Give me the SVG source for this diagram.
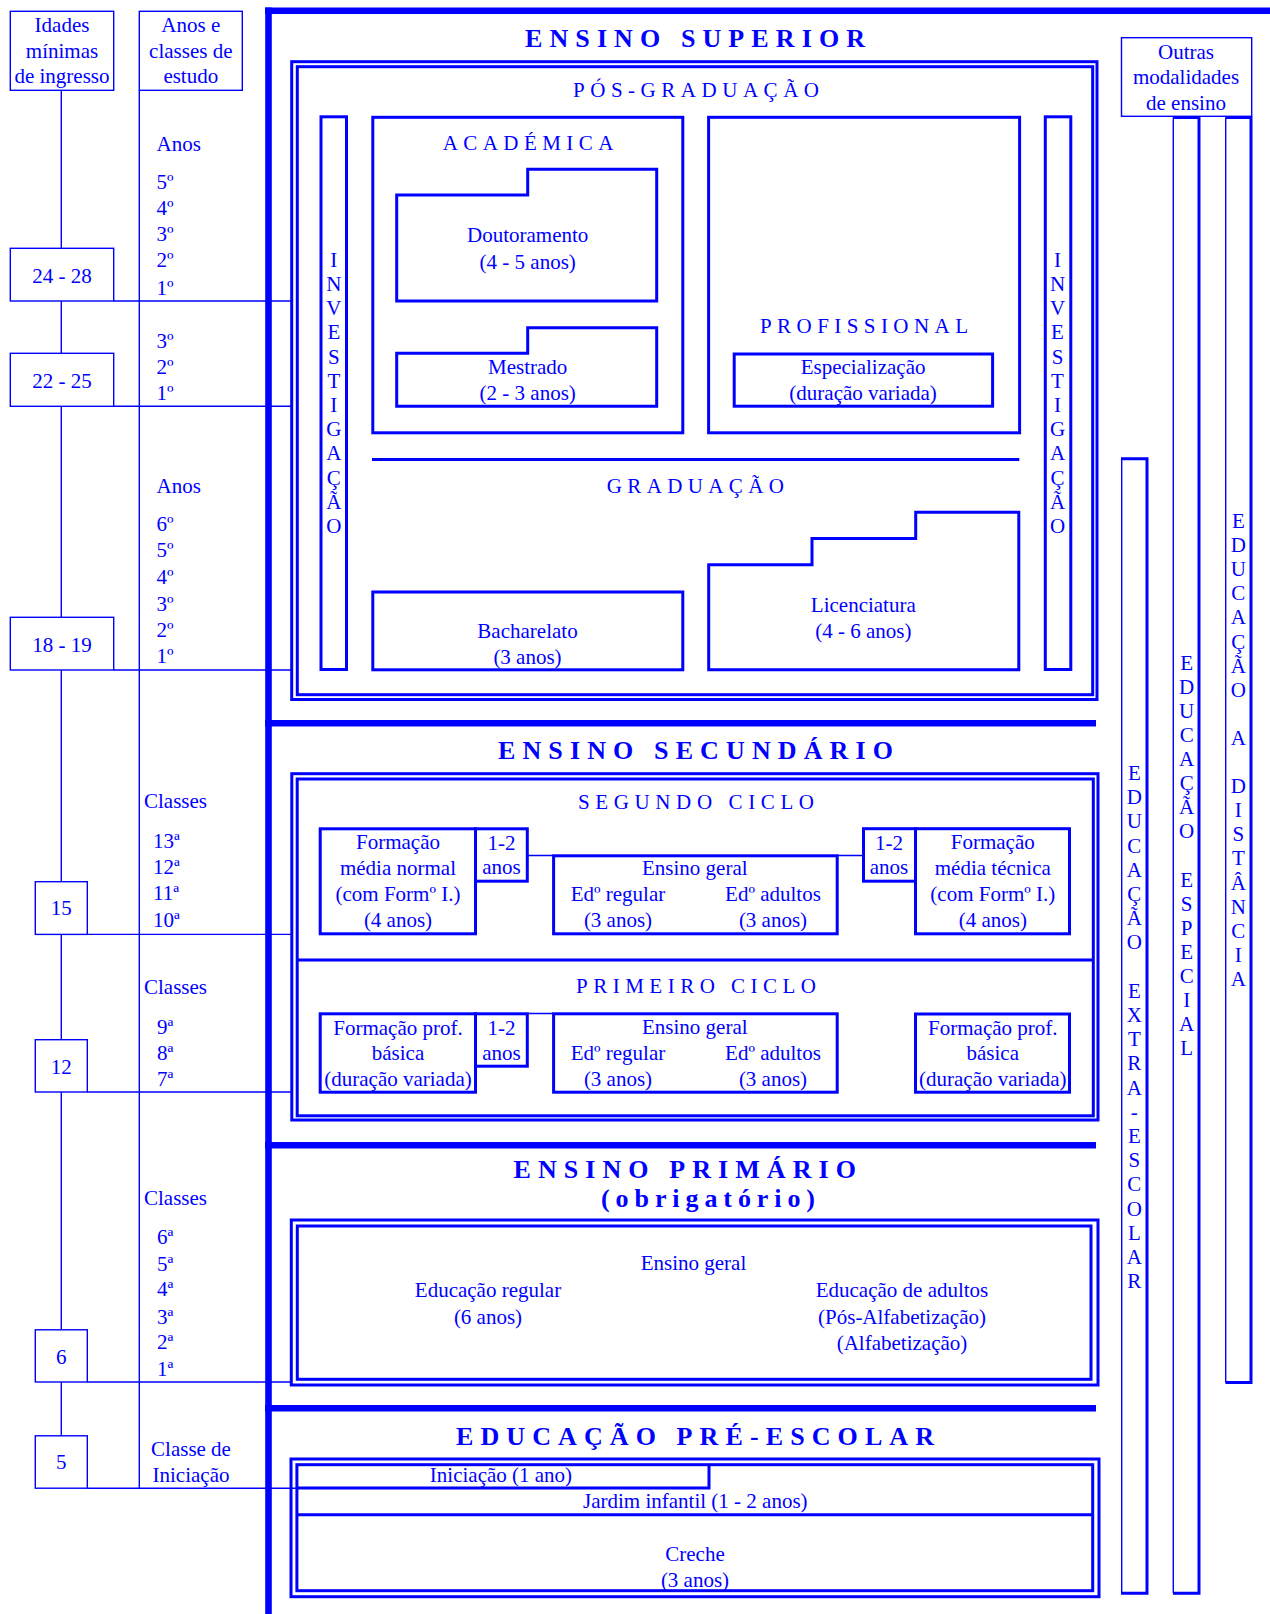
<svg xmlns="http://www.w3.org/2000/svg" width="1270" height="1614" viewBox="0 0 1270 1614">
<style>
.t{font-family:"Liberation Serif","Times New Roman",serif;font-size:21px;fill:#00f}
.c{text-anchor:middle}
.h{font-weight:bold;font-size:26px}
.b{fill:none;stroke:#00f;stroke-width:3}
.n{fill:none;stroke:#00f;stroke-width:1.4}
.k{fill:none;stroke:#00f;stroke-width:6.6}
</style>
<rect width="1270" height="1614" fill="#fff"/>
<g id="connectors">
<path class="n" d="M61.3 90.3V248.3M61.3 301V353.3M61.3 406.3V617.3M61.3 670V881.7M61.3 934.4V1039.7M61.3 1092V1329.8M61.3 1382V1435.8M139.3 90.3V1488.2"/>
<path class="n" d="M113.7 301H291.7M113.7 406.3H291.7M113.7 670H291.7M87.3 934.4H291.8M87.3 1092H291.8M87.3 1382H291.3M87.3 1488.2H297"/>
<path class="n" d="M527.3 855.5H553.6M837.2 855.5H863.5M527.3 1013.5H553.6"/>
<path class="k" d="M268.5 7.3V1614M265 10.7H1270M265 723.3H1096M265 1145.3H1096M265 1408.3H1096"/>
</g>
<g id="header-idades">
<rect class="n" x="10.3" y="11.3" width="103.4" height="79"/>
<text class="t c"><tspan x="62" y="32">Idades</tspan><tspan x="62" y="58">mínimas</tspan><tspan x="62" y="83">de ingresso</tspan></text>
</g>
<g id="header-anos">
<rect class="n" x="139.3" y="11.3" width="103" height="79"/>
<text class="t c"><tspan x="190.8" y="32">Anos e</tspan><tspan x="190.8" y="58">classes de</tspan><tspan x="190.8" y="83">estudo</tspan></text>
</g>
<g id="age-24-28"><rect class="n" x="10.3" y="248.3" width="103.4" height="52.7"/><text class="t c" x="62" y="282.7">24 - 28</text></g>
<g id="age-22-25"><rect class="n" x="10.3" y="353.3" width="103.4" height="53"/><text class="t c" x="62" y="387.7">22 - 25</text></g>
<g id="age-18-19"><rect class="n" x="10.3" y="617.3" width="103.4" height="52.7"/><text class="t c" x="62" y="651.7">18 - 19</text></g>
<g id="age-15"><rect class="n" x="35.3" y="881.7" width="52" height="52.7"/><text class="t c" x="61.3" y="915">15</text></g>
<g id="age-12"><rect class="n" x="35.3" y="1039.7" width="52" height="52.3"/><text class="t c" x="61.3" y="1073.5">12</text></g>
<g id="age-6"><rect class="n" x="35.3" y="1329.8" width="52" height="52.2"/><text class="t c" x="61.3" y="1363.5">6</text></g>
<g id="age-5"><rect class="n" x="35.3" y="1435.8" width="52" height="52.4"/><text class="t c" x="61.3" y="1469">5</text></g>
<g id="years-pos">
<text class="t"><tspan x="156.5" y="150.5">Anos</tspan><tspan x="156.5" y="188.5">5º</tspan><tspan x="156.5" y="214.5">4º</tspan><tspan x="156.5" y="240.5">3º</tspan><tspan x="156.5" y="266.5">2º</tspan><tspan x="156.5" y="294.5">1º</tspan><tspan x="156.5" y="348.3">3º</tspan><tspan x="156.5" y="374">2º</tspan><tspan x="156.5" y="399.5">1º</tspan></text>
</g>
<g id="years-grad">
<text class="t"><tspan x="156.5" y="492.7">Anos</tspan><tspan x="156.5" y="531">6º</tspan><tspan x="156.5" y="557.3">5º</tspan><tspan x="156.5" y="584">4º</tspan><tspan x="156.5" y="610.7">3º</tspan><tspan x="156.5" y="637.3">2º</tspan><tspan x="156.5" y="663.3">1º</tspan></text>
</g>
<g id="classes-sec">
<text class="t"><tspan x="144" y="808.3">Classes</tspan><tspan x="153" y="848.3">13ª</tspan><tspan x="153" y="874.3">12ª</tspan><tspan x="153" y="900">11ª</tspan><tspan x="153" y="926.5">10ª</tspan><tspan x="144" y="993.8">Classes</tspan><tspan x="157" y="1034">9ª</tspan><tspan x="157" y="1059.6">8ª</tspan><tspan x="157" y="1086">7ª</tspan></text>
</g>
<g id="classes-prim">
<text class="t"><tspan x="144" y="1205">Classes</tspan><tspan x="157" y="1244.4">6ª</tspan><tspan x="157" y="1270.5">5ª</tspan><tspan x="157" y="1296">4ª</tspan><tspan x="157" y="1323.5">3ª</tspan><tspan x="157" y="1349">2ª</tspan><tspan x="157" y="1376">1ª</tspan></text>
<text class="t c"><tspan x="191" y="1455.7">Classe de</tspan><tspan x="191" y="1481.7">Iniciação</tspan></text>
</g>
<g id="ensino-superior">
<text class="t h" x="525" y="46.7" textLength="340" lengthAdjust="spacing">ENSINO SUPERIOR</text>
<rect class="b" x="291.7" y="61.7" width="805.3" height="637.8"/>
<rect class="b" x="297.3" y="66.7" width="795.4" height="628"/>
<text class="t" x="573" y="96.7" textLength="246" lengthAdjust="spacing">PÓS-GRADUAÇÃO</text>
<path class="b" d="M372 459.5H1019.3"/>
<text class="t" x="606.7" y="492.7" textLength="177.3" lengthAdjust="spacing">GRADUAÇÃO</text>
</g>
<g id="investigacao-esq">
<rect class="b" x="321" y="116.8" width="25.5" height="552.7"/>
<text class="t c"><tspan x="333.8" y="266.7">I</tspan><tspan x="333.8" y="290.9">N</tspan><tspan x="333.8" y="315.1">V</tspan><tspan x="333.8" y="339.3">E</tspan><tspan x="333.8" y="363.5">S</tspan><tspan x="333.8" y="387.7">T</tspan><tspan x="333.8" y="411.9">I</tspan><tspan x="333.8" y="436.1">G</tspan><tspan x="333.8" y="460.3">A</tspan><tspan x="333.8" y="484.5">Ç</tspan><tspan x="333.8" y="508.7">Ã</tspan><tspan x="333.8" y="532.9">O</tspan></text>
</g>
<g id="investigacao-dir">
<rect class="b" x="1045.3" y="116.8" width="25.5" height="552.7"/>
<text class="t c"><tspan x="1057.5" y="266.7">I</tspan><tspan x="1057.5" y="290.9">N</tspan><tspan x="1057.5" y="315.1">V</tspan><tspan x="1057.5" y="339.3">E</tspan><tspan x="1057.5" y="363.5">S</tspan><tspan x="1057.5" y="387.7">T</tspan><tspan x="1057.5" y="411.9">I</tspan><tspan x="1057.5" y="436.1">G</tspan><tspan x="1057.5" y="460.3">A</tspan><tspan x="1057.5" y="484.5">Ç</tspan><tspan x="1057.5" y="508.7">Ã</tspan><tspan x="1057.5" y="532.9">O</tspan></text>
</g>
<g id="academica">
<rect class="b" x="372.8" y="117.3" width="310" height="315.5"/>
<text class="t" x="442.7" y="150" textLength="170.6" lengthAdjust="spacing">ACADÉMICA</text>
</g>
<g id="doutoramento">
<path class="b" d="M396.7 301V195H527.7V169.3H656.7V301Z"/>
<text class="t c"><tspan x="527.7" y="242">Doutoramento</tspan><tspan x="527.7" y="269.3">(4 - 5 anos)</tspan></text>
</g>
<g id="mestrado">
<path class="b" d="M396.7 406.3V353.3H527.7V327.7H656.7V406.3Z"/>
<text class="t c"><tspan x="527.7" y="374.3">Mestrado</tspan><tspan x="527.7" y="400">(2 - 3 anos)</tspan></text>
</g>
<g id="profissional">
<rect class="b" x="708.6" y="117.3" width="311" height="315.5"/>
<text class="t" x="760" y="333.3" textLength="208" lengthAdjust="spacing">PROFISSIONAL</text>
</g>
<g id="especializacao">
<rect class="b" x="734.2" y="354" width="258.4" height="52.2"/>
<text class="t c"><tspan x="863.1" y="374">Especialização</tspan><tspan x="863.1" y="400">(duração variada)</tspan></text>
</g>
<g id="bacharelato">
<rect class="b" x="372.8" y="592" width="310" height="77.8"/>
<text class="t c"><tspan x="527.5" y="638.3">Bacharelato</tspan><tspan x="527.5" y="664.3">(3 anos)</tspan></text>
</g>
<g id="licenciatura">
<path class="b" d="M708.7 669.8V564.7H812V538.5H915.7V512.3H1018.8V669.8Z"/>
<text class="t c"><tspan x="863.3" y="611.7">Licenciatura</tspan><tspan x="863.3" y="638.3">(4 - 6 anos)</tspan></text>
</g>
<g id="ensino-secundario">
<text class="t h" x="498" y="759" textLength="395" lengthAdjust="spacing">ENSINO SECUNDÁRIO</text>
<rect class="b" x="291.8" y="773.7" width="806.2" height="346.3"/>
<rect class="b" x="297.2" y="779" width="796.1" height="336.8"/>
<path class="b" d="M297.2 960H1093.3"/>
<text class="t" x="578" y="809" textLength="236" lengthAdjust="spacing">SEGUNDO CICLO</text>
<text class="t" x="576" y="993.3" textLength="240" lengthAdjust="spacing">PRIMEIRO CICLO</text>
</g>
<g id="formacao-media-normal">
<rect class="b" x="320.2" y="828.8" width="155.3" height="105"/>
<rect class="b" x="475.5" y="828.8" width="51.8" height="52.4"/>
<text class="t c"><tspan x="398" y="849">Formação</tspan><tspan x="398" y="875">média normal</tspan><tspan x="398" y="901">(com Formº I.)</tspan><tspan x="398" y="927">(4 anos)</tspan></text>
<text class="t c"><tspan x="501.5" y="850">1-2</tspan><tspan x="501.5" y="874">anos</tspan></text>
</g>
<g id="ensino-geral-2">
<rect class="b" x="553.6" y="855.8" width="283.6" height="78"/>
<text class="t c"><tspan x="694.8" y="875">Ensino geral</tspan><tspan x="618" y="901">Edº regular</tspan><tspan x="618" y="927">(3 anos)</tspan><tspan x="773" y="901">Edº adultos</tspan><tspan x="773" y="927">(3 anos)</tspan></text>
</g>
<g id="formacao-media-tecnica">
<rect class="b" x="863.5" y="828.7" width="52" height="52.5"/>
<rect class="b" x="915.5" y="828.7" width="154" height="105.1"/>
<text class="t c"><tspan x="889" y="850">1-2</tspan><tspan x="889" y="874">anos</tspan></text>
<text class="t c"><tspan x="992.8" y="849">Formação</tspan><tspan x="992.8" y="875">média técnica</tspan><tspan x="992.8" y="901">(com Formº I.)</tspan><tspan x="992.8" y="927">(4 anos)</tspan></text>
</g>
<g id="formacao-prof-basica-esq">
<rect class="b" x="320.2" y="1013.8" width="155.3" height="78.4"/>
<rect class="b" x="475.5" y="1013.8" width="51.8" height="52.4"/>
<text class="t c"><tspan x="398" y="1035">Formação prof.</tspan><tspan x="398" y="1060">básica</tspan><tspan x="398" y="1085.5">(duração variada)</tspan></text>
<text class="t c"><tspan x="501.5" y="1035">1-2</tspan><tspan x="501.5" y="1059.5">anos</tspan></text>
</g>
<g id="ensino-geral-1">
<rect class="b" x="553.6" y="1013.8" width="283.6" height="78.4"/>
<text class="t c"><tspan x="694.8" y="1033.5">Ensino geral</tspan><tspan x="618" y="1060">Edº regular</tspan><tspan x="618" y="1085.5">(3 anos)</tspan><tspan x="773" y="1060">Edº adultos</tspan><tspan x="773" y="1085.5">(3 anos)</tspan></text>
</g>
<g id="formacao-prof-basica-dir">
<rect class="b" x="915.5" y="1014" width="154" height="78.2"/>
<text class="t c"><tspan x="992.8" y="1035">Formação prof.</tspan><tspan x="992.8" y="1060">básica</tspan><tspan x="992.8" y="1085.5">(duração variada)</tspan></text>
</g>
<g id="ensino-primario">
<text class="t h" x="513.5" y="1178.3" textLength="342.5" lengthAdjust="spacing">ENSINO PRIMÁRIO</text>
<text class="t h" x="601" y="1207" textLength="214" lengthAdjust="spacing">(obrigatório)</text>
<rect class="b" x="291.3" y="1220" width="806.7" height="165"/>
<rect class="b" x="297.3" y="1226" width="793.7" height="153.3"/>
<text class="t c"><tspan x="693.5" y="1270">Ensino geral</tspan><tspan x="488" y="1296.7">Educação regular</tspan><tspan x="488" y="1323.5">(6 anos)</tspan><tspan x="902" y="1296.7">Educação de adultos</tspan><tspan x="902" y="1323.5">(Pós-Alfabetização)</tspan><tspan x="902" y="1350">(Alfabetização)</tspan></text>
</g>
<g id="educacao-pre-escolar">
<text class="t h" x="456" y="1445" textLength="478" lengthAdjust="spacing">EDUCAÇÃO PRÉ-ESCOLAR</text>
<rect class="b" x="291" y="1459" width="808" height="137.7"/>
<rect class="b" x="296.9" y="1464.7" width="795.8" height="126"/>
<path class="b" d="M296.9 1488H709V1464.7M296.9 1514.7H1092.7"/>
<text class="t c" x="501" y="1481.7">Iniciação (1 ano)</text>
<text class="t c" x="695.3" y="1507.7">Jardim infantil (1 - 2 anos)</text>
<text class="t c"><tspan x="695" y="1560.7">Creche</tspan><tspan x="695" y="1587">(3 anos)</tspan></text>
</g>
<g id="outras-modalidades">
<rect class="n" x="1121.5" y="37.7" width="130.2" height="78.6"/>
<text class="t c"><tspan x="1186" y="58.7">Outras</tspan><tspan x="1186" y="84.3">modalidades</tspan><tspan x="1186" y="110">de ensino</tspan></text>
</g>
<g id="educacao-extra-escolar">
<path class="n" d="M1121.7 458.8V1593.3"/>
<path class="b" d="M1121 458.8H1147V1593.3H1121"/>
<text class="t c"><tspan x="1134.3" y="780">E</tspan><tspan x="1134.3" y="804.2">D</tspan><tspan x="1134.3" y="828.4">U</tspan><tspan x="1134.3" y="852.6">C</tspan><tspan x="1134.3" y="876.8">A</tspan><tspan x="1134.3" y="901">Ç</tspan><tspan x="1134.3" y="925.2">Ã</tspan><tspan x="1134.3" y="949.4">O</tspan><tspan x="1134.3" y="997.8">E</tspan><tspan x="1134.3" y="1022">X</tspan><tspan x="1134.3" y="1046.2">T</tspan><tspan x="1134.3" y="1070.4">R</tspan><tspan x="1134.3" y="1094.6">A</tspan><tspan x="1134.3" y="1118.8">-</tspan><tspan x="1134.3" y="1143">E</tspan><tspan x="1134.3" y="1167.2">S</tspan><tspan x="1134.3" y="1191.4">C</tspan><tspan x="1134.3" y="1215.6">O</tspan><tspan x="1134.3" y="1239.8">L</tspan><tspan x="1134.3" y="1264">A</tspan><tspan x="1134.3" y="1288.2">R</tspan></text>
</g>
<g id="educacao-especial">
<path class="n" d="M1173.3 117.5V1593.3"/>
<path class="b" d="M1173 117.5H1199V1593.3H1173"/>
<text class="t c"><tspan x="1186.7" y="669.6">E</tspan><tspan x="1186.7" y="693.7">D</tspan><tspan x="1186.7" y="717.8">U</tspan><tspan x="1186.7" y="741.9">C</tspan><tspan x="1186.7" y="766">A</tspan><tspan x="1186.7" y="790.1">Ç</tspan><tspan x="1186.7" y="814.2">Ã</tspan><tspan x="1186.7" y="838.3">O</tspan><tspan x="1186.7" y="886.5">E</tspan><tspan x="1186.7" y="910.6">S</tspan><tspan x="1186.7" y="934.7">P</tspan><tspan x="1186.7" y="958.8">E</tspan><tspan x="1186.7" y="982.9">C</tspan><tspan x="1186.7" y="1007">I</tspan><tspan x="1186.7" y="1031.1">A</tspan><tspan x="1186.7" y="1055.2">L</tspan></text>
</g>
<g id="educacao-a-distancia">
<path class="n" d="M1225.7 117.5V1382.5"/>
<path class="b" d="M1225.5 117.5H1251V1382.5H1225.5"/>
<text class="t c"><tspan x="1238.3" y="528">E</tspan><tspan x="1238.3" y="552.1">D</tspan><tspan x="1238.3" y="576.2">U</tspan><tspan x="1238.3" y="600.3">C</tspan><tspan x="1238.3" y="624.4">A</tspan><tspan x="1238.3" y="648.5">Ç</tspan><tspan x="1238.3" y="672.6">Ã</tspan><tspan x="1238.3" y="696.7">O</tspan><tspan x="1238.3" y="744.9">A</tspan><tspan x="1238.3" y="793.1">D</tspan><tspan x="1238.3" y="817.2">I</tspan><tspan x="1238.3" y="841.3">S</tspan><tspan x="1238.3" y="865.4">T</tspan><tspan x="1238.3" y="889.5">Â</tspan><tspan x="1238.3" y="913.6">N</tspan><tspan x="1238.3" y="937.7">C</tspan><tspan x="1238.3" y="961.8">I</tspan><tspan x="1238.3" y="985.9">A</tspan></text>
</g>
</svg>
